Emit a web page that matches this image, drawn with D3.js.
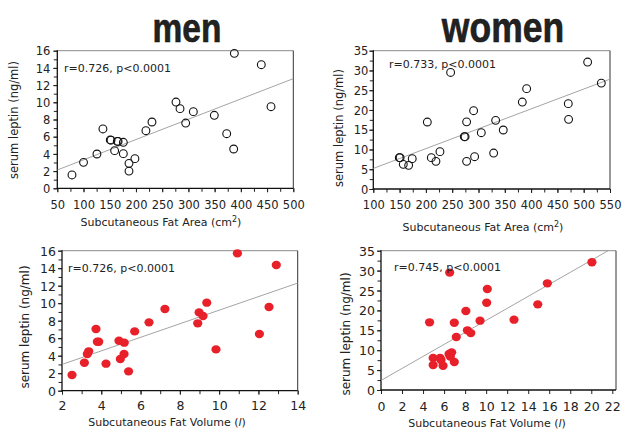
<!DOCTYPE html>
<html>
<head>
<meta charset="utf-8">
<script src="https://cdn.jsdelivr.net/npm/d3@7"></script>
<style>
  html, body { margin: 0; padding: 0; background: #fff; }
  svg { display: block; }
  text { font-family: "DejaVu Sans", "Verdana", sans-serif; fill: #222; }
</style>
</head>
<body>
<svg id="chart" width="625" height="430"></svg>
<script>
// ---------------- DATA ----------------
const groupTitles = ["men", "women"];
const statTexts = ["r=0.726, p<0.0001", "r=0.733, p<0.0001", "r=0.726, p<0.0001", "r=0.745, p<0.0001"];
const yTitle = "serum leptin (ng/ml)";

// men: subcutaneous fat area (cm2) vs leptin
const menAreaX = [78,100,125.6,137,151,152.5,164.4,166,175.9,159.3,175.9,186.7,186.7,198,219,230.5,276.3,284,294.8,309.4,349.4,373,386.3,387.6,439,457.5];
const menAreaY = [1.55,3.02,3.99,6.9,5.62,5.6,5.46,5.45,5.35,4.38,4.03,2.9,2.0,3.45,6.7,7.71,10.03,9.26,7.59,8.91,8.49,6.35,4.57,15.69,14.37,9.49];
const menAreaFit = [[50, 2.13], [500, 12.75]];

// women: subcutaneous fat area (cm2) vs leptin
const womenAreaX = [149.4,151,157,167.2,174,202.7,210.3,219.1,226.7,247,273,274.5,277.4,277.4,290.7,292.6,305.3,328.8,332.6,347.1,383.3,391.5,470.7,471.3,507.5,533.5];
const womenAreaY = [7.93,7.93,6.24,5.99,7.67,16.95,7.93,7.0,9.45,29.5,13.24,13.24,17.0,7.0,19.82,8.18,14.25,9.1,17.37,14.93,22.0,25.39,21.6,17.63,32.13,26.8];
const womenAreaFit = [[100, 5.2], [550, 27.8]];

// men: subcutaneous fat volume (l) vs leptin
const menVolX = [2.51,3.14,3.29,3.36,3.73,3.8,3.87,4.24,4.9,4.97,5.16,5.17,5.39,5.7,6.43,7.24,8.91,8.98,9.18,9.37,9.84,10.93,12.05,12.54,12.91];
const menVolY = [1.79,3.2,4.19,4.5,7.05,5.6,5.6,3.09,5.71,3.62,4.19,5.49,2.21,6.78,7.81,9.33,7.7,8.95,8.53,10.06,4.72,15.7,6.48,9.56,14.36];
const menVolFit = [[2, 3.0], [14, 12.3]];

// women: subcutaneous fat volume (l) vs leptin
const womenVolX = [4.62,4.96,4.96,5.62,5.71,5.9,6.47,6.59,6.72,6.53,6.97,6.97,7.16,8.07,8.22,8.54,9.42,10.05,10.11,12.65,14.91,15.82,20.06];
const womenVolY = [17.0,8.04,6.28,8.04,7.54,6.11,9.05,8.38,9.46,29.5,16.9,7.04,13.3,19.85,14.99,14.3,17.42,21.94,25.38,17.67,21.52,26.8,32.08];
const womenVolFit = [[0, 2.4], [21.6, 35]];

// tick values
const areaMenXTicks = [50,100,150,200,250,300,350,400,450,500];
const areaWomenXTicks = [100,150,200,250,300,350,400,450,500,550];
const menYTicks = [0,2,4,6,8,10,12,14,16];
const womenYTicks = [0,5,10,15,20,25,30,35];
const volMenXTicks = [2,4,6,8,10,12,14];
const volWomenXTicks = [0,2,4,6,8,10,12,14,16,18,20,22];

// ---------------- LAYOUT ----------------
const svg = d3.select("#chart");
const RED = "#e8202a";

function minorTicks(lo, hi, step) {
  const out = [];
  const n = Math.round((hi - lo) / step);
  for (let i = 0; i <= n; i++) out.push(+(lo + i * step).toFixed(4));
  return out;
}

function panel(cfg) {
  const g = svg.append("g");
  const x = d3.scaleLinear().domain(cfg.xDomain).range([cfg.x0, cfg.x1]);
  const y = d3.scaleLinear().domain(cfg.yDomain).range([cfg.y1, cfg.y0]);

  // frame: top + right
  g.append("line").attr("x1", cfg.x0).attr("x2", cfg.x1).attr("y1", cfg.y0).attr("y2", cfg.y0)
    .attr("stroke", "#8a8a8a").attr("stroke-width", 1);
  g.append("line").attr("x1", cfg.x1).attr("x2", cfg.x1).attr("y1", cfg.y0).attr("y2", cfg.y1)
    .attr("stroke", "#333").attr("stroke-width", 1);

  // minor ticks
  if (cfg.xMinor) {
    const gm = g.append("g").attr("transform", `translate(0,${cfg.y1})`)
      .call(d3.axisBottom(x).tickValues(minorTicks(cfg.xDomain[0], cfg.xDomain[1], cfg.xMinor)).tickSize(3.5).tickFormat(""));
    gm.select(".domain").remove();
    gm.selectAll("line").attr("stroke", "#222");
  }
  if (cfg.yMinor) {
    const gm = g.append("g").attr("transform", `translate(${cfg.x0},0)`)
      .call(d3.axisLeft(y).tickValues(minorTicks(cfg.yDomain[0], cfg.yDomain[1], cfg.yMinor)).tickSize(3.5).tickFormat(""));
    gm.select(".domain").remove();
    gm.selectAll("line").attr("stroke", "#222");
  }

  // major axes
  const gx = g.append("g").attr("transform", `translate(0,${cfg.y1})`)
    .call(d3.axisBottom(x).tickValues(cfg.xTicks).tickSize(4).tickFormat(d3.format("d")));
  gx.select(".domain").remove();
  gx.selectAll("line").attr("stroke", "#222");
  gx.selectAll("text").attr("y", cfg.xLabelOff).attr("dy", null)
    .style("font-family", '"DejaVu Sans", sans-serif').style("font-size", cfg.tickFont + "px").attr("fill", "#222");

  const gy = g.append("g").attr("transform", `translate(${cfg.x0},0)`)
    .call(d3.axisLeft(y).tickValues(cfg.yTicks).tickSize(4).tickFormat(d3.format("d")));
  gy.select(".domain").remove();
  gy.selectAll("line").attr("stroke", "#222");
  gy.selectAll("text").attr("x", -cfg.yLabelGap).attr("dy", "0.36em")
    .style("font-family", '"DejaVu Sans", sans-serif').style("font-size", cfg.tickFont + "px").attr("fill", "#222");

  // left & bottom axis lines
  g.append("line").attr("x1", cfg.x0).attr("x2", cfg.x0).attr("y1", cfg.y0 - 0.5).attr("y2", cfg.y1 + 0.5)
    .attr("stroke", "#111").attr("stroke-width", 1.3);
  g.append("line").attr("x1", cfg.x0 - 0.5).attr("x2", cfg.x1).attr("y1", cfg.y1).attr("y2", cfg.y1)
    .attr("stroke", "#111").attr("stroke-width", 1.3);

  // regression line
  g.append("line")
    .attr("x1", x(cfg.fit[0][0])).attr("y1", y(cfg.fit[0][1]))
    .attr("x2", x(cfg.fit[1][0])).attr("y2", y(cfg.fit[1][1]))
    .attr("stroke", "#9a9a9a").attr("stroke-width", 0.9);

  // points
  const pts = cfg.xs.map((v, i) => [v, cfg.ys[i]]);
  if (cfg.filled) {
    g.selectAll("ellipse.pt").data(pts).enter().append("ellipse")
      .attr("cx", d => x(d[0])).attr("cy", d => y(d[1]))
      .attr("rx", 4.6).attr("ry", 4.2).attr("fill", RED);
  } else {
    g.selectAll("circle.pt").data(pts).enter().append("circle")
      .attr("cx", d => x(d[0])).attr("cy", d => y(d[1]))
      .attr("r", 3.9).attr("fill", "none").attr("stroke", "#111").attr("stroke-width", 1.1);
  }

  // stat text
  g.append("text").attr("x", cfg.statX).attr("y", cfg.statY)
    .style("font-size", "11px").text(cfg.stat);

  // y title
  g.append("text")
    .attr("transform", `translate(${cfg.yTitleX},${cfg.yTitleY}) rotate(-90)`)
    .attr("text-anchor", "middle").style("font-size", cfg.yTitleFont + "px")
    .text(yTitle);

  // x title
  const xt = g.append("text").attr("x", cfg.xTitleX).attr("y", cfg.xTitleY)
    .attr("text-anchor", "middle").style("font-size", "11px");
  if (cfg.kind === "area") {
    xt.append("tspan").text("Subcutaneous Fat Area  (cm");
    xt.append("tspan").attr("dy", -4).style("font-size", "8px").text("2");
    xt.append("tspan").attr("dy", 4).text(")");
  } else {
    xt.append("tspan").text("Subcutaneous Fat Volume (");
    xt.append("tspan").style("font-style", "italic").text("l");
    xt.append("tspan").text(")");
  }
}

// titles
const titlePos = [[187, 41.5], [503, 41.5]];
const titleSizes = [33.5, 35.5];
groupTitles.forEach((t, i) => {
  svg.append("text")
    .attr("transform", `translate(${titlePos[i][0]},${titlePos[i][1]}) scale(1,1.2)`)
    .attr("text-anchor", "middle")
    .style("font-family", '"Liberation Sans", Arial, sans-serif')
    .style("font-weight", "bold").style("font-size", titleSizes[i] + "px")
    .attr("fill", "#111").attr("stroke", "#111").attr("stroke-width", 0.5)
    .text(t);
});

panel({ kind: "area", x0: 57.3, x1: 293.3, y0: 50.7, y1: 188.3, xDomain: [50, 500], yDomain: [0, 16],
  xTicks: areaMenXTicks, xMinor: 25, yTicks: menYTicks, yMinor: 1,
  xs: menAreaX, ys: menAreaY, fit: menAreaFit, filled: false,
  stat: statTexts[0], statX: 64, statY: 72,
  tickFont: 11.5, xLabelOff: 21, yLabelGap: 7,
  yTitleX: 18, yTitleY: 120, yTitleFont: 11.5, xTitleX: 161, xTitleY: 226 });

panel({ kind: "area", x0: 373.3, x1: 610, y0: 50.7, y1: 189, xDomain: [100, 550], yDomain: [0, 35],
  xTicks: areaWomenXTicks, xMinor: 25, yTicks: womenYTicks, yMinor: 2.5,
  xs: womenAreaX, ys: womenAreaY, fit: womenAreaFit, filled: false,
  stat: statTexts[1], statX: 389, statY: 67.5,
  tickFont: 11.5, xLabelOff: 20, yLabelGap: 5,
  yTitleX: 343, yTitleY: 128, yTitleFont: 11.5, xTitleX: 483, xTitleY: 231 });

panel({ kind: "vol", x0: 62, x1: 297.7, y0: 250.7, y1: 390.7, xDomain: [2, 14], yDomain: [0, 16],
  xTicks: volMenXTicks, xMinor: 1, yTicks: menYTicks, yMinor: 1,
  xs: menVolX, ys: menVolY, fit: menVolFit, filled: true,
  stat: statTexts[2], statX: 68, statY: 272,
  tickFont: 12.5, xLabelOff: 19.5, yLabelGap: 6,
  yTitleX: 29, yTitleY: 327, yTitleFont: 12, xTitleX: 167, xTitleY: 426 });

panel({ kind: "vol", x0: 381, x1: 616, y0: 250.7, y1: 390, xDomain: [0, 22.35], yDomain: [0, 35],
  xTicks: volWomenXTicks, xMinor: null, yTicks: womenYTicks, yMinor: 2.5,
  xs: womenVolX, ys: womenVolY, fit: womenVolFit, filled: true,
  stat: statTexts[3], statX: 394, statY: 271,
  tickFont: 12.5, xLabelOff: 21, yLabelGap: 6,
  yTitleX: 350, yTitleY: 334, yTitleFont: 12, xTitleX: 487, xTitleY: 427 });
</script>
</body>
</html>
